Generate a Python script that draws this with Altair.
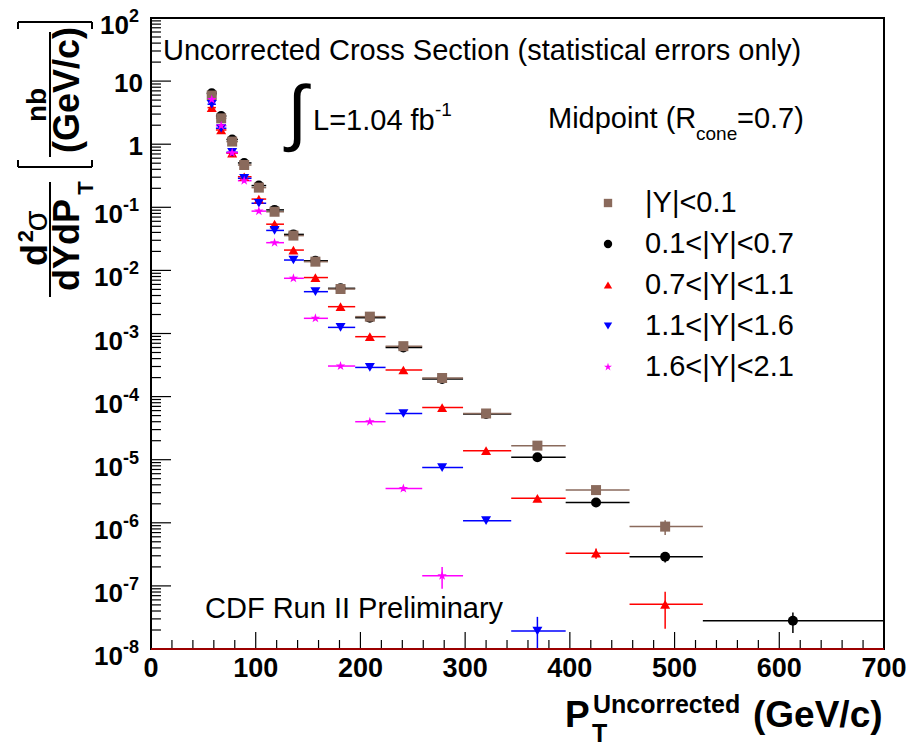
import altair as alt
import pandas as pd

# ---------------- data ----------------
SERIES = ["|Y|<0.1", "0.1<|Y|<0.7", "0.7<|Y|<1.1", "1.1<|Y|<1.6", "1.6<|Y|<2.1"]
COLORS = ["#8a6a5c", "#000000", "#ff0000", "#0000ff", "#ff00ff"]
STAR = ("M0,-1L0.2245,-0.309L0.951,-0.309L0.363,0.118L0.588,0.809L0,0.382"
        "L-0.588,0.809L-0.363,0.118L-0.951,-0.309L-0.2245,-0.309Z")
SHAPES = ["square", "circle", "triangle-up", "triangle-down", STAR]

PT_EDGES = [54, 62, 72, 83, 96, 110, 127, 146, 169, 195, 224, 259, 298, 344, 396, 457, 527, 700]
PT_MEAN = [58, 67, 77.5, 89, 103, 118, 136, 157, 181, 209, 241, 278, 320, 369, 425, 491, 613]

XS_Y01 = [5.9, 2.57, 1.10, 0.468, 0.205, 0.085, 0.0356, 0.01375, 0.00507, 0.00185,
          6.3e-4, 1.97e-4, 5.4e-5, 1.67e-5, 3.3e-6, 8.7e-7]
ERR_Y01 = [0, 0, 0, 0, 0, 0, 0, 0, 0, 0, 0, 0, 0, 1.0e-6, 3.0e-7, 2.3e-7]

XS_Y07 = [6.4, 2.80, 1.19, 0.505, 0.221, 0.091, 0.0372, 0.0142, 0.0052, 0.00178,
          6.0e-4, 1.90e-4, 5.3e-5, 1.09e-5, 2.1e-6, 2.9e-7, 2.8e-8]
ERR_Y07 = [0, 0, 0, 0, 0, 0, 0, 0, 0, 0, 0, 0, 0, 6.0e-7, 1.5e-7, 5.5e-8, 1.0e-8]

XS_Y11 = [3.8, 1.68, 0.72, 0.305, 0.135, 0.054, 0.021, 0.0077, 0.00266, 8.9e-4,
          2.64e-4, 6.7e-5, 1.39e-5, 2.44e-6, 3.3e-7, 5.1e-8]
ERR_Y11 = [0, 0, 0, 0, 0, 0, 0, 0, 0, 0, 0, 0, 0, 2.0e-7, 6.0e-8, 3.0e-8]

XS_Y16 = [4.3, 1.79, 0.745, 0.288, 0.116, 0.043, 0.0146, 0.0046, 0.00125, 2.9e-4,
          5.4e-5, 7.5e-6, 1.08e-6, 1.93e-8]
ERR_Y16 = [0, 0, 0, 0, 0, 0, 0, 0, 0, 0, 0, 0, 1.0e-7, 1.3e-8]

XS_Y21 = [5.1, 1.96, 0.73, 0.264, 0.087, 0.0275, 0.0075, 0.00174, 3.05e-4, 4.0e-5,
          3.5e-6, 1.45e-7]
ERR_Y21 = [0, 0, 0, 0, 0, 0, 0, 0, 0, 0, 3.0e-7, 5.5e-8]

DECADES = list(range(-8, 3))
X_MAJOR = list(range(0, 701, 100))
X_MINOR = [v for v in range(0, 701, 20) if v % 100]

# ---------------- build tables ----------------
VALUES = [XS_Y01, XS_Y07, XS_Y11, XS_Y16, XS_Y21]
ERRORS = [ERR_Y01, ERR_Y07, ERR_Y11, ERR_Y16, ERR_Y21]
DRAW_ORDER = [1, 0, 2, 3, 4]
rows = []
for si in DRAW_ORDER:
    for i, (v, e) in enumerate(zip(VALUES[si], ERRORS[si])):
        rows.append(dict(series=SERIES[si], pt=PT_MEAN[i], lo=PT_EDGES[i], hi=PT_EDGES[i + 1],
                         xs=v, ylo=v - e, yhi=v + e))
df = pd.DataFrame(rows)

L0, T0 = 151, 18          # plot origin on the page
W, H = 733, 631
FONT = "Liberation Sans"

xsc = alt.Scale(domain=[0, 700], nice=False, zero=False)
ysc = alt.Scale(type="log", domain=[1e-8, 1e2], nice=False)
cscale = alt.Scale(domain=SERIES, range=COLORS)
sscale = alt.Scale(domain=SERIES, range=SHAPES)

base = alt.Chart(df)
err_h = base.mark_rule(strokeWidth=1.5, clip=True).encode(
    x=alt.X("lo:Q", scale=xsc, axis=None), x2="hi:Q",
    y=alt.Y("xs:Q", scale=ysc, axis=None),
    stroke=alt.Stroke("series:N", scale=cscale, legend=None))
err_v = base.mark_rule(strokeWidth=1.5, clip=True).encode(
    x=alt.X("pt:Q", scale=xsc, axis=None),
    y=alt.Y("ylo:Q", scale=ysc, axis=None), y2="yhi:Q",
    stroke=alt.Stroke("series:N", scale=cscale, legend=None))
points = base.mark_point(filled=True, opacity=1, size=100).encode(
    x=alt.X("pt:Q", scale=xsc, axis=None),
    y=alt.Y("xs:Q", scale=ysc, axis=None),
    color=alt.Color("series:N", scale=cscale, legend=None),
    shape=alt.Shape("series:N", scale=sscale, legend=None))

# legend block (ROOT TLegend style), rows laid out inside the frame
leg_df = pd.DataFrame({"series": SERIES, "row": list(range(len(SERIES)))})
leg = alt.Chart(leg_df).transform_calculate(ly="185 + 41 * datum.row")
leg_sym = leg.mark_point(filled=True, opacity=1, size=70).encode(
    x=alt.value(457), y=alt.Y("ly:Q", scale=None),
    color=alt.Color("series:N", scale=cscale, legend=None),
    shape=alt.Shape("series:N", scale=sscale, legend=None))
leg_txt = leg.mark_text(align="left", baseline="middle", font=FONT, fontSize=29,
                        color="black").encode(
    x=alt.value(494), y=alt.Y("ly:Q", scale=None), text="series:N")

# ticks drawn inside the frame
xmaj = alt.Chart(pd.DataFrame({"v": X_MAJOR})).mark_rule(color="black", strokeWidth=1.2).encode(
    x=alt.X("v:Q", scale=xsc, axis=None), y=alt.value(H), y2=alt.value(H - 17))
xmin = alt.Chart(pd.DataFrame({"v": X_MINOR})).mark_rule(color="black", strokeWidth=1.2).encode(
    x=alt.X("v:Q", scale=xsc, axis=None), y=alt.value(H), y2=alt.value(H - 9))
ymaj = alt.Chart(pd.DataFrame({"v": [10.0 ** k for k in DECADES]})).mark_rule(
    color="black", strokeWidth=1.2).encode(
    y=alt.Y("v:Q", scale=ysc, axis=None), x=alt.value(0), x2=alt.value(20))
ymin_vals = [m * 10.0 ** k for k in DECADES[:-1] for m in range(2, 10)]
ymin = alt.Chart(pd.DataFrame({"v": ymin_vals})).mark_rule(color="black", strokeWidth=1.2).encode(
    y=alt.Y("v:Q", scale=ysc, axis=None), x=alt.value(0), x2=alt.value(10))

# x tick labels
xlab = alt.Chart(pd.DataFrame({"v": X_MAJOR, "t": [str(v) for v in X_MAJOR]})).mark_text(
    align="center", baseline="top", font=FONT, fontSize=27, fontWeight="bold", color="black"
).encode(x=alt.X("v:Q", scale=xsc, axis=None), y=alt.value(H + 7), text="t:N")

# y tick labels (10 with superscript exponent)
ylab_df = pd.DataFrame({"v": [10.0 ** k for k in DECADES],
                        "base": ["1" if k == 0 else "10" for k in DECADES],
                        "sup": ["" if k in (0, 1) else str(k) for k in DECADES]})
ylab = alt.Chart(ylab_df)
ylab_plain = ylab.transform_filter("datum.sup == ''").mark_text(
    align="right", baseline="middle", dy=3, font=FONT, fontSize=26, fontWeight="bold",
    color="black").encode(y=alt.Y("v:Q", scale=ysc, axis=None), x=alt.value(-8), text="base:N")
ylab_sup = ylab.transform_filter("datum.sup != ''").mark_text(
    align="right", baseline="middle", dy=-1, font=FONT, fontSize=18, fontWeight="bold",
    color="black").encode(y=alt.Y("v:Q", scale=ysc, axis=None), x=alt.value(-12), text="sup:N")
ylab_base = ylab.transform_filter("datum.sup != ''").transform_calculate(
    bx="-12 - (length(datum.sup) > 1 ? 16 : 10)").mark_text(
    align="right", baseline="middle", dy=8, font=FONT, fontSize=26, fontWeight="bold",
    color="black").encode(y=alt.Y("v:Q", scale=ysc, axis=None),
                          x=alt.X("bx:Q", scale=None), text="base:N")


def txt(text, px, py, size, weight="normal", align="left", baseline="alphabetic", angle=0):
    kw = dict(align=align, baseline=baseline, font=FONT, fontSize=size, fontWeight=weight,
              color="black")
    if angle:
        kw["angle"] = angle
    return alt.Chart(pd.DataFrame({"t": [text]})).mark_text(**kw).encode(
        text="t:N", x=alt.value(px - L0), y=alt.value(py - T0))


def line(x1, y1, x2, y2, w=2, color="black"):
    return alt.Chart(pd.DataFrame({"a": [0]})).mark_rule(color=color, strokeWidth=w).encode(
        x=alt.value(x1 - L0), x2=alt.value(x2 - L0), y=alt.value(y1 - T0), y2=alt.value(y2 - T0))


annotations = [
    line(151, 649, 884, 649, 1.5, "#d00000"),
    txt("Uncorrected Cross Section (statistical errors only)", 163, 60, 29),
    txt("\u222b", 297, 115, 73, align="center", baseline="middle"),
    txt("L=1.04 fb", 313, 130, 29),
    txt("-1", 435, 116, 19),
    txt("Midpoint (R", 548, 128, 29),
    txt("cone", 696, 140, 19),
    txt("=0.7)", 737, 128, 29),
    txt("CDF Run II Preliminary", 205, 618, 29),
    # x title
    txt("P", 565, 727, 37, "bold"),
    txt("Uncorrected", 593, 713, 25, "bold"),
    txt("T", 592, 742, 25, "bold"),
    txt("(GeV/c)", 753, 727, 37, "bold"),
    # y title
    txt("d", 47, 255, 36, "bold", "center", "alphabetic", 270),
    txt("2", 33, 236, 22, "bold", "center", "alphabetic", 270),
    txt("\u03c3", 47, 221, 34, "normal", "center", "alphabetic", 270),
    txt("dYdP", 68, 245, 36, "bold", "center", "middle", 270),
    txt("T", 93, 188, 22, "bold", "center", "alphabetic", 270),
    txt("nb", 38, 105, 28, "bold", "center", "middle", 270),
    txt("(GeV/c)", 68, 90, 36, "bold", "center", "middle", 270),
    line(50, 182, 50, 297),
    line(50, 32, 50, 157),
    line(18, 167, 92, 167), line(18, 160, 18, 167), line(92, 160, 92, 167),
    line(18, 22, 92, 22), line(18, 22, 18, 29), line(92, 22, 92, 29),
]

chart = alt.layer(
    xmaj, xmin, ymaj, ymin, err_h, err_v, points, leg_sym, leg_txt, xlab,
    ylab_plain, ylab_sup, ylab_base, *annotations
).properties(
    width=W, height=H,
    padding={"left": L0, "top": T0, "right": 916 - L0 - W, "bottom": 746 - T0 - H},
    autosize=alt.AutoSizeParams(type="none"),
    background="white",
).configure_view(stroke="black", strokeWidth=2)

chart.save("out.html", embed_options={"renderer": "svg", "actions": False})
